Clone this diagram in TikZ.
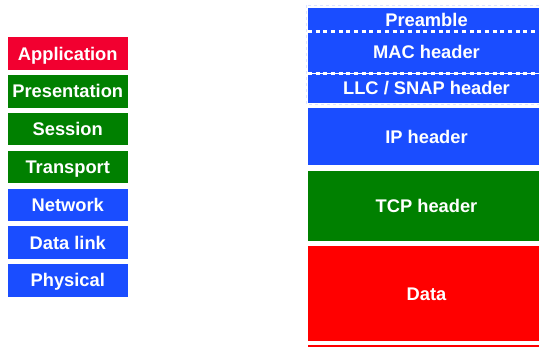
\documentclass[tikz,border=0pt]{standalone}
\usepackage{fontspec}
\setmainfont{Liberation Sans}
\usetikzlibrary{positioning,calc}
\definecolor{osired}{HTML}{F20030}
\definecolor{osigreen}{HTML}{008000}
\definecolor{osiblue}{HTML}{1A4DFF}
\definecolor{datared}{HTML}{FF0000}

\begin{document}
\begin{tikzpicture}[x=1pt,y=1pt,node distance=4.9pt]
\tikzstyle{layer}=[rectangle, inner sep=0pt, minimum width=120.5pt, minimum height=32.5pt, text=white, font=\fontsize{18.3}{20}\selectfont\bfseries, text height=13pt, text depth=0pt]
\tikzstyle{field}=[layer, minimum width=237pt]
\tikzstyle{dots}=[white, line width=3.2pt, dash pattern=on 4pt off 3.7pt]
\useasboundingbox (0,0) rectangle (539,-346);
% OSI layers
\node[layer,fill=osired] (app) at (67.75,-53.6) {Application};
\node[layer,fill=osigreen,below=of app] (pres) {Presentation};
\node[layer,fill=osigreen,below=of pres] (sess) {Session};
\node[layer,fill=osigreen,below=of sess] (trans) {Transport};
\node[layer,fill=osiblue,below=of trans] (net) {Network};
\node[layer,fill=osiblue,below=of net] (link) {Data link};
\node[layer,fill=osiblue,below=of link] (phys) {Physical};
% frame
\draw[osiblue!15, dashed, line width=0.8pt] (306,-5) rectangle (545,-104.5);
\node[field,fill=osiblue,minimum height=23pt] (pre) at (426.5,-19.5) {Preamble};
\node[field,fill=osiblue,minimum height=42pt,below=0pt of pre] (mac) {MAC header};
\node[field,fill=osiblue,minimum height=29pt,below=0pt of mac] (llc) {LLC / SNAP header};
\node[field,fill=osiblue,minimum height=57pt,below=5pt of llc] (ip) {IP header};
\node[field,fill=osigreen,minimum height=70pt,below=5pt of ip] (tcp) {TCP header};
\node[field,fill=datared,minimum height=95pt,below=5pt of tcp] (data) {Data};
\node[field,fill=datared,minimum height=8pt,below=4pt of data] (rest) {};
\draw[dots] (pre.south west) -- (pre.south east);
\draw[dots] (mac.south west) -- (mac.south east);
\end{tikzpicture}
\end{document}
